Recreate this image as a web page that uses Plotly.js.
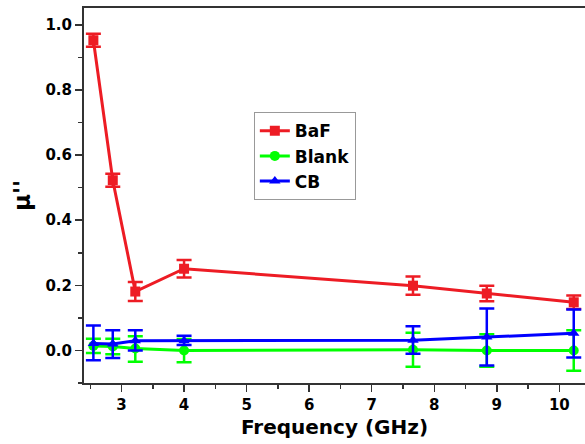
<!DOCTYPE html>
<html>
<head>
<meta charset="utf-8">
<script src="https://cdn.plot.ly/plotly-3.0.1.min.js"></script>
<style>html,body{margin:0;padding:0;background:#fff;}#chart{width:585px;height:444px;}</style>
</head>
<body>
<div id="chart"></div>
<script>
// Data
const freq = [2.55, 2.86, 3.22, 4.0, 7.66, 8.84, 10.23];

const bafY = [0.953, 0.523, 0.181, 0.251, 0.199, 0.175, 0.148];
const bafErr = [0.02, 0.02, 0.029, 0.027, 0.028, 0.024, 0.021];

const blankY = [0.014, 0.012, 0.006, 0.0, 0.002, 0.0, 0.0];
const blankErrPlus = [0.022, 0.024, 0.038, 0.035, 0.052, 0.05, 0.062];
const blankErrMinus = [0.022, 0.024, 0.041, 0.036, 0.052, 0.05, 0.062];

const cbY = [0.021, 0.02, 0.03, 0.03, 0.031, 0.041, 0.053];
const cbErrPlus = [0.056, 0.042, 0.032, 0.015, 0.043, 0.088, 0.073];
const cbErrMinus = [0.051, 0.043, 0.03, 0.013, 0.041, 0.087, 0.075];

const xTicks = [3, 4, 5, 6, 7, 8, 9, 10];
const yTicks = [0.0, 0.2, 0.4, 0.6, 0.8, 1.0];

const seriesNames = ['BaF', 'Blank', 'CB'];
const colors = ['#ed1c24', '#00ff00', '#0000ff'];

function trace(name, y, plus, minus, color, symbol) {
  return {
    type: 'scatter', mode: 'lines+markers', name: name,
    x: freq, y: y,
    line: {color: color, width: 3},
    marker: {color: color, symbol: symbol, size: 10},
    error_y: {type: 'data', symmetric: false, array: plus, arrayminus: minus,
              color: color, thickness: 2.5, width: 7.5, visible: true}
  };
}

const data = [
  trace(seriesNames[0], bafY, bafErr, bafErr, colors[0], 'square'),
  trace(seriesNames[1], blankY, blankErrPlus, blankErrMinus, colors[1], 'circle'),
  trace(seriesNames[2], cbY, cbErrPlus, cbErrMinus, colors[2], 'triangle-up')
];

const FAM = 'DejaVu Sans, Liberation Sans, sans-serif';
const tickFont = {family: FAM, size: 15, color: '#000', weight: 700};

const layout = {
  width: 585, height: 444,
  margin: {l: 84, r: 0, t: 8, b: 61},
  paper_bgcolor: '#fff', plot_bgcolor: '#fff',
  showlegend: true,
  legend: {
    x: 0.339, y: 0.722, xanchor: 'left', yanchor: 'top',
    bgcolor: '#fff', bordercolor: '#999', borderwidth: 1,
    font: {family: FAM, size: 17, color: '#000', weight: 700},
    tracegroupgap: 0
  },
  xaxis: {
    range: [2.4, 10.41],
    tickvals: xTicks, ticktext: xTicks.map(String),
    ticks: 'outside', ticklen: 7, tickwidth: 1.5, tickcolor: '#333',
    minor: {dtick: 0.5, tick0: 2.5, ticks: 'outside', ticklen: 4, tickwidth: 1.5, tickcolor: '#333'},
    showline: true, linecolor: '#333', linewidth: 2, mirror: true,
    showgrid: false, zeroline: false,
    tickfont: tickFont,
    title: {text: 'Frequency (GHz)', standoff: 7,
            font: {family: FAM, size: 20, color: '#000', weight: 700}}
  },
  yaxis: {
    range: [-0.1, 1.052],
    tickvals: yTicks, ticktext: yTicks.map(v => v.toFixed(1)),
    ticks: 'outside', ticklen: 7, tickwidth: 1.5, tickcolor: '#333',
    minor: {dtick: 0.1, tick0: 0.1, ticks: 'outside', ticklen: 4, tickwidth: 1.5, tickcolor: '#333'},
    showline: true, linecolor: '#333', linewidth: 2, mirror: false,
    showgrid: false, zeroline: false,
    tickfont: tickFont,
    title: {text: "μ''", standoff: 8,
            font: {family: FAM, size: 23, color: '#000', weight: 700}}
  }
};

Plotly.newPlot('chart', data, layout, {displayModeBar: false, staticPlot: true});
</script>
</body>
</html>
